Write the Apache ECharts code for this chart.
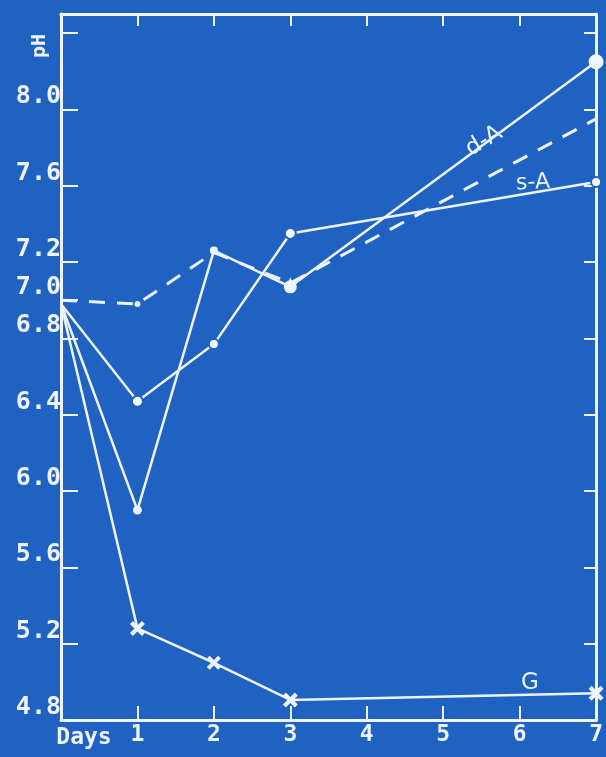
<!DOCTYPE html>
<html>
<head>
<meta charset="utf-8">
<script src="https://cdn.jsdelivr.net/npm/echarts@6/dist/echarts.min.js"></script>
<style>
html,body{margin:0;padding:0;background:#1f62c2;}
#chart{width:606px;height:757px;}
</style>
</head>
<body>
<div id="chart"></div>
<script>
// ---- data ----
const days = [0, 1, 2, 3, 4, 5, 6, 7];
const xTickLabels = ['Days', '1', '2', '3', '4', '5', '6', '7'];
const yLabelValues = [4.8, 5.2, 5.6, 6.0, 6.4, 6.8, 7.0, 7.2, 7.6, 8.0];
const yTickValues = [4.8, 5.2, 5.6, 6.0, 6.4, 6.8, 7.0, 7.2, 7.6, 8.0, 8.4];
const yAxisName = 'pH';
const dA = [6.98, 5.90, 7.26, 7.07, null, null, null, 8.25];
const sA = [6.98, 6.47, 6.77, 7.35, null, null, null, 7.62];
const G = [6.98, 5.28, 5.10, 4.905, null, null, null, 4.94];
const dashedSeries = [7.0, 6.98, 7.25, 7.09, null, null, null, 7.95];
const seriesNames = ['d-A', 's-A', 'G'];

// ---- styles ----
const W = '#eef4ff';
const BG = '#1f62c2';
const monoFont = '"DejaVu Sans Mono", "Liberation Mono", monospace';
const handFont = '"DejaVu Sans", "Liberation Sans", sans-serif';
const crossPath = 'path://M2,0 L5,3 L8,0 L10,2 L7,5 L10,8 L8,10 L5,7 L2,10 L0,8 L3,5 L0,2 Z';

const dASym = ['none', 'circle', 'circle', 'circle', 'none', 'none', 'none', 'circle'];
const dASize = [0, 9, 8, 13, 0, 0, 0, 15];
const sASym = ['none', 'emptyCircle', 'emptyCircle', 'emptyCircle', 'none', 'none', 'none', 'emptyCircle'];
const sASize = [0, 11, 10, 11, 0, 0, 0, 10];
const GSym = ['none', crossPath, crossPath, crossPath, 'none', 'none', 'none', crossPath];
const GSize = [0, 15, 14, 15, 0, 0, 0, 15];
const dashSym = ['none', 'circle', 'none', 'triangle', 'none', 'none', 'none', 'none'];
const dashSize = [0, 6, 0, 11, 0, 0, 0, 0];

function pairs(vals) { return days.map((d, i) => [d, vals[i]]); }

const chart = echarts.init(document.getElementById('chart'), null, {renderer: 'canvas'});

const axisLineStyle = {color: W, width: 3};
const option = {
  backgroundColor: BG,
  animation: false,
  grid: {left: 61, right: 9, top: 14, bottom: 37, containLabel: false},
  xAxis: [
    {
      type: 'value', min: 0, max: 7, interval: 1, position: 'bottom',
      axisLine: {show: true, onZero: false, lineStyle: axisLineStyle},
      axisTick: {show: true, inside: true, length: 14, lineStyle: {color: W, width: 2}},
      axisLabel: {
        color: W, fontFamily: monoFont, fontWeight: 'bold', fontSize: 23, margin: 4,
        formatter: v => (v === 0 ? '' : xTickLabels[Math.round(v)])
      },
      splitLine: {show: false}
    },
    {
      type: 'value', min: 0, max: 7, interval: 1, position: 'top',
      axisLine: {show: true, onZero: false, lineStyle: axisLineStyle},
      axisTick: {show: true, inside: true, length: 12, lineStyle: {color: W, width: 2}},
      axisLabel: {show: false},
      splitLine: {show: false}
    }
  ],
  yAxis: [
    {
      type: 'value', min: 4.8, max: 8.5, position: 'left',
      axisLine: {show: true, onZero: false, lineStyle: axisLineStyle},
      axisTick: {show: true, inside: true, length: 17, customValues: yTickValues, lineStyle: {color: W, width: 2}},
      axisLabel: {
        color: W, fontFamily: monoFont, fontWeight: 'bold', fontSize: 25, margin: 0,
        verticalAlign: 'bottom', customValues: yLabelValues,
        formatter: v => v.toFixed(1)
      },
      splitLine: {show: false}
    },
    {
      type: 'value', min: 4.8, max: 8.5, interval: 0.4, position: 'right',
      axisLine: {show: true, onZero: false, lineStyle: axisLineStyle},
      axisTick: {show: true, inside: true, length: 12, lineStyle: {color: W, width: 2}},
      axisLabel: {show: false},
      splitLine: {show: false}
    }
  ],
  series: [
    {
      name: 'dashed', type: 'line', data: pairs(dashedSeries), connectNulls: true,
      lineStyle: {color: W, width: 3, type: [16, 12]},
      symbol: (v, p) => dashSym[p.dataIndex], symbolSize: (v, p) => dashSize[p.dataIndex],
      itemStyle: {color: W}, z: 2
    },
    {
      name: seriesNames[0], type: 'line', data: pairs(dA), connectNulls: true,
      lineStyle: {color: W, width: 2.5},
      symbol: (v, p) => dASym[p.dataIndex], symbolSize: (v, p) => dASize[p.dataIndex],
      itemStyle: {color: W}, z: 3
    },
    {
      name: seriesNames[1], type: 'line', data: pairs(sA), connectNulls: true,
      lineStyle: {color: W, width: 2.5},
      symbol: (v, p) => sASym[p.dataIndex], symbolSize: (v, p) => sASize[p.dataIndex],
      itemStyle: {color: BG, borderColor: W, borderWidth: 2.5}, z: 3
    },
    {
      name: seriesNames[2], type: 'line', data: pairs(G), connectNulls: true,
      lineStyle: {color: W, width: 2.5},
      symbol: (v, p) => GSym[p.dataIndex], symbolSize: (v, p) => GSize[p.dataIndex],
      itemStyle: {color: W}, z: 3
    }
  ],
  graphic: [
    {type: 'text', x: 40, y: 46, rotation: Math.PI / 2,
     style: {text: yAxisName, fill: W, font: 'bold 20px ' + monoFont, align: 'center', verticalAlign: 'middle'}},
    {type: 'text', x: 84, y: 738,
     style: {text: xTickLabels[0], fill: W, font: 'bold 23px ' + monoFont, align: 'center', verticalAlign: 'middle'}},
    {type: 'text', x: 484, y: 141, rotation: 0.54,
     style: {text: seriesNames[0], fill: W, font: '23px ' + handFont, align: 'center', verticalAlign: 'middle'}},
    {type: 'text', x: 533, y: 183, rotation: 0.05,
     style: {text: seriesNames[1], fill: W, font: '22px ' + handFont, align: 'center', verticalAlign: 'middle'}},
    {type: 'text', x: 530, y: 683,
     style: {text: seriesNames[2], fill: W, font: '23px ' + handFont, align: 'center', verticalAlign: 'middle'}}
  ]
};
chart.setOption(option);
</script>
</body>
</html>
